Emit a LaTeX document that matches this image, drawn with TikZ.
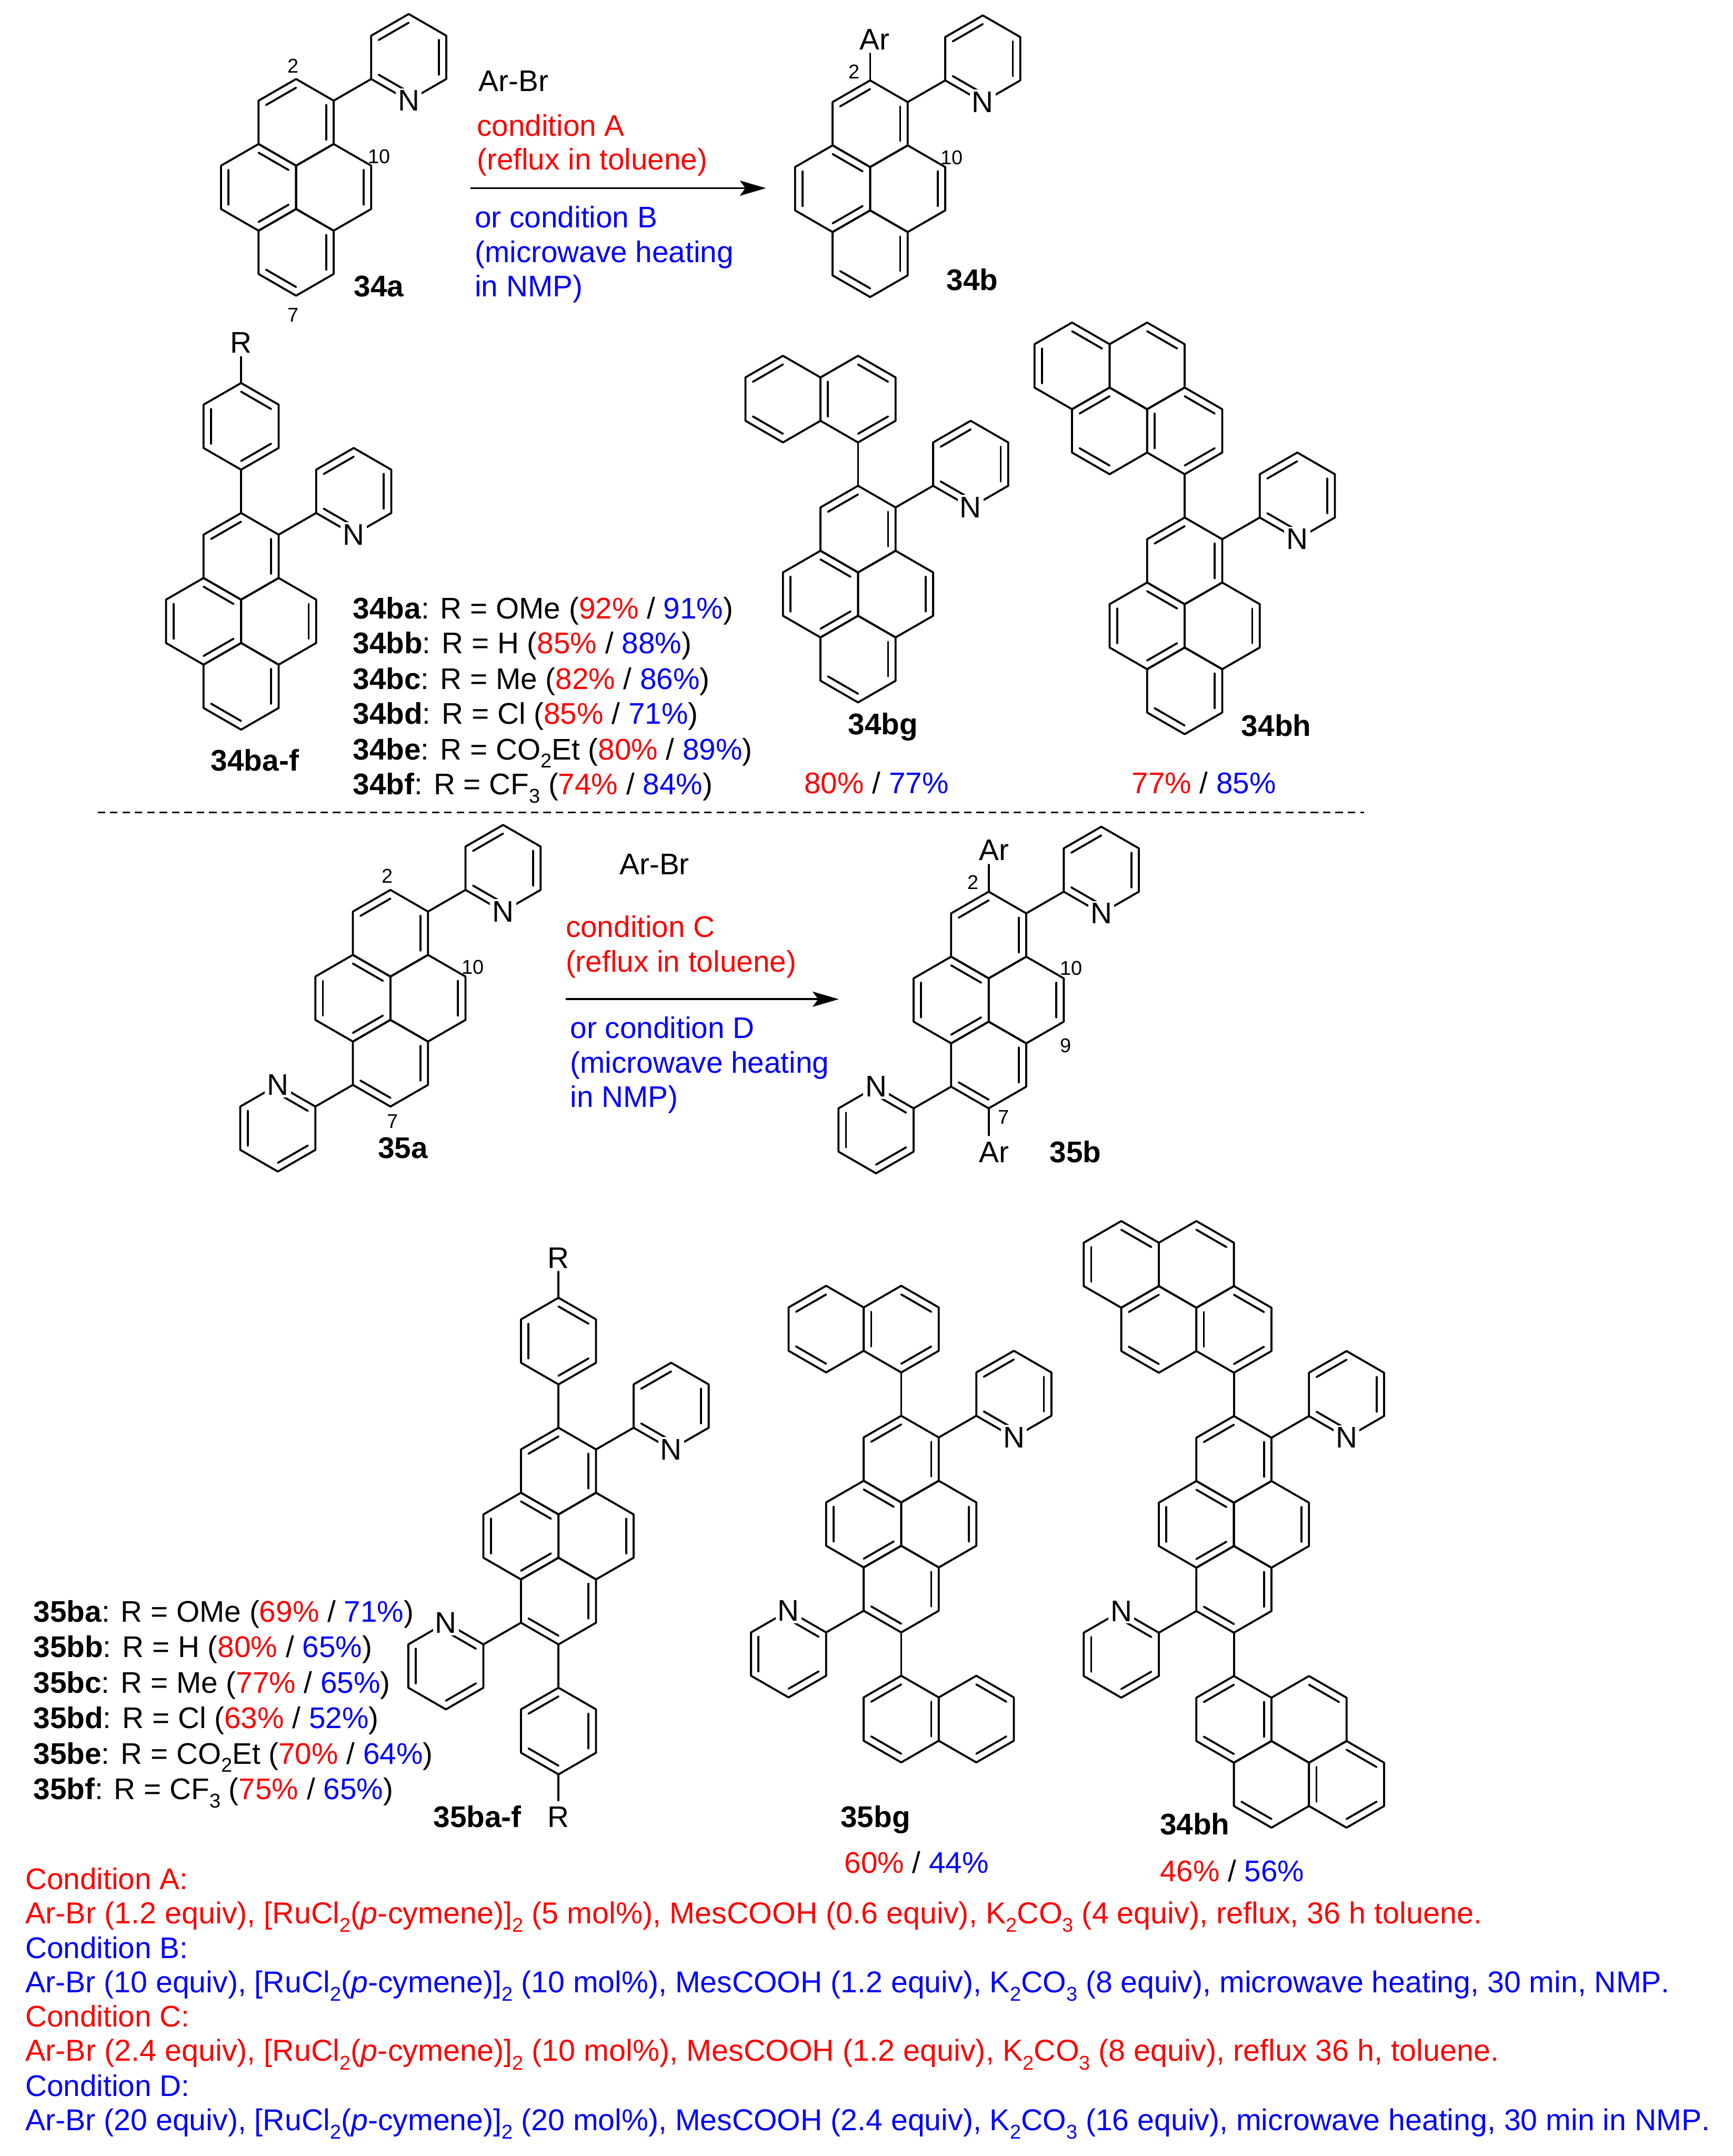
\documentclass[tikz,border=0pt]{standalone}
\usepackage{fontspec}
\setmainfont[Kerning=Off]{Liberation Sans}
\usetikzlibrary{arrows.meta}
\definecolor{cr}{RGB}{255,0,0}
\definecolor{cb}{RGB}{0,0,255}
\newcommand\cred[1]{\textcolor{cr}{#1}}
\newcommand\cblu[1]{\textcolor{cb}{#1}}
\newcommand\Sb[1]{\raisebox{-0.28em}{\fontsize{14.5}{15}\selectfont #1}}
\newcommand\fsA{\fontsize{22}{25}\selectfont}
\newcommand\fsB{\fontsize{21.9}{25}\selectfont}
\newcount\nodeidx
\newcommand\nid{\global\advance\nodeidx by 1 }
\tikzset{
  bond/.style={line width=1.45pt,line cap=round,line join=round,black},
  lbl/.style={inner sep=0pt,outer sep=0pt,font=\fontsize{21.7}{25}\selectfont},
  numlbl/.style={inner sep=0pt,outer sep=0pt,font=\fontsize{14.5}{16}\selectfont},
  nitro/.style={fill=white,inner sep=1.6pt,font=\fontsize{21.7}{25}\selectfont},
  rxn/.style={line width=1.5pt,-{Stealth[length=19pt,width=11pt,inset=4pt]}},
  divider/.style={line width=1.2pt,dash pattern=on 5.5pt off 3.5pt}
}
\newcommand\Tw[3]{\nid\node[lbl,anchor=base west] (t\the\nodeidx) at (#1,#2) {#3};}
\newcommand\Tc[3]{\nid\node[lbl,anchor=base] (t\the\nodeidx) at (#1,#2) {#3};}
\newcommand\Tn[3]{\nid\node[numlbl] (t\the\nodeidx) at (#1,#2) {#3};}
\newcommand\Hex[3]{\begin{scope}[shift={(#1,#2)}]
  \draw[bond] (0,-1)--(1,-.5)--(1,.5)--(0,1)--(-1,.5)--(-1,-.5)--cycle;
  \begin{scope}[scale=.8]\foreach \e in {#3}{\ifcase\e\or
    \draw[bond] (0,-1)--(1,-.5);\or
    \draw[bond] (1,-.5)--(1,.5);\or
    \draw[bond] (1,.5)--(0,1);\or
    \draw[bond] (0,1)--(-1,.5);\or
    \draw[bond] (-1,.5)--(-1,-.5);\or
    \draw[bond] (-1,-.5)--(0,-1);\fi}\end{scope}
\end{scope}}
\newcommand\Pyrene{\Hex{0}{-1.5}{2,6}\Hex{-1}{0}{1,3,5}\Hex{1}{0}{2}\Hex{0}{1.5}{2,4}}
\newcommand\PyU{\draw[bond] (1,-2)--(2,-2.5);\Hex{3}{-3}{2,4,6}\nid\node[nitro] (n\the\nodeidx) at (3,-2) {N};}
\newcommand\PyD{\draw[bond] (-1,2)--(-2,2.5);\Hex{-3}{3}{1,3,5}\nid\node[nitro] (n\the\nodeidx) at (-3,2) {N};}
\newcommand\NaphU{\draw[bond] (0,-2.5)--(0,-3.5);\Hex{0}{-4.5}{1,3,5}\Hex{-2}{-4.5}{4,6}}
\newcommand\NaphD{\draw[bond] (0,2.5)--(0,3.5);\Hex{0}{4.5}{2,4,6}\Hex{2}{4.5}{1,3}}
\newcommand\PyrU{\draw[bond] (0,-2.5)--(0,-3.5);\Hex{0}{-4.5}{1,3,5}\Hex{-2}{-4.5}{4,6}\Hex{-1}{-6}{1}\Hex{-3}{-6}{1,5}}
\newcommand\PyrD{\draw[bond] (0,2.5)--(0,3.5);\Hex{0}{4.5}{2,4,6}\Hex{2}{4.5}{1}\Hex{1}{6}{4}\Hex{3}{6}{1,3,5}}
\newcommand\ArU{\draw[bond] (0,-2.5)--(0,-3.5);\Hex{0}{-4.5}{1,3,5}\draw[bond] (0,-5.5)--(0,-6.1);}
\newcommand\ArD{\draw[bond] (0,2.5)--(0,3.5);\Hex{0}{4.5}{2,4,6}\draw[bond] (0,5.5)--(0,6.1);}
\newenvironment{mol}[2]{\begin{scope}[shift={(#1,#2)},x=27.3pt,y=-31.5pt]}{\end{scope}}
\begin{document}
\begin{tikzpicture}[x=1pt,y=-1pt]
\path[use as bounding box,fill=white] (0,0) rectangle (1260,1567.4);
% --- 34a -> 34b
\begin{mol}{215.3}{136.2}\Pyrene\PyU\end{mol}
\begin{mol}{632.7}{137.2}\Pyrene\PyU\draw[bond] (0,-2.5)--(0,-3.12);\end{mol}
\Tn{213}{48}{2}\Tn{275.6}{113.7}{10}\Tn{213}{229}{7}
\Tc{275.6}{215.5}{\textbf{34a}}
\Tc{636}{36}{Ar}\Tn{621}{52}{2}\Tn{692}{114.5}{10}
\Tc{707}{211}{\textbf{34b}}
\Tw{348.2}{66.3}{Ar-Br}
\Tw{346.8}{98.8}{\cred{condition A}}
\Tw{346.8}{123.5}{\cred{(reflux in toluene)}}
\Tw{345.3}{165.4}{\cblu{or condition B}}
\Tw{345.3}{190.8}{\cblu{(microwave heating}}
\Tw{345.3}{215.5}{\cblu{in NMP)}}
\coordinate (a1) at (342,136.8);\coordinate (a2) at (557,136.8);
\draw[rxn] (a1)--(a2);
% --- 34ba-f
\begin{mol}{175.3}{451.7}\Pyrene\PyU\ArU\end{mol}
\Tc{175.3}{256.5}{R}
\Tc{185.4}{560.3}{\textbf{34ba-f}}
\Tw{256.6}{449.8}{\textbf{34ba}: R = OMe (\cred{92\%} / \cblu{91\%})}
\Tw{256.6}{475.2}{\textbf{34bb}: R = H (\cred{85\%} / \cblu{88\%})}
\Tw{256.6}{501.1}{\textbf{34bc}: R = Me (\cred{82\%} / \cblu{86\%})}
\Tw{256.6}{526.5}{\textbf{34bd}: R = Cl (\cred{85\%} / \cblu{71\%})}
\Tw{256.6}{552.2}{\textbf{34be}: R = CO\Sb{2}Et (\cred{80\%} / \cblu{89\%})}
\Tw{256.6}{577.6}{\textbf{34bf}: R = CF\Sb{3} (\cred{74\%} / \cblu{84\%})}
% --- 34bg, 34bh
\begin{mol}{623.9}{431.9}\Pyrene\PyU\NaphU\end{mol}
\Tc{642}{533.9}{\textbf{34bg}}
\Tw{584.8}{577}{\cred{80\%} / \cblu{77\%}}
\begin{mol}{861.4}{455}\Pyrene\PyU\PyrU\end{mol}
\Tc{928}{535}{\textbf{34bh}}
\Tw{822.9}{577}{\cred{77\%} / \cblu{85\%}}
% --- divider
\coordinate (d1) at (71,590.7);\coordinate (d2) at (992,590.7);
\draw[divider] (d1)--(d2);
% --- 35a -> 35b
\begin{mol}{283.9}{725.7}\Pyrene\PyU\PyD\end{mol}
\Tn{281.5}{637}{2}\Tn{343.8}{703}{10}\Tn{285.3}{815.3}{7}
\Tc{293}{842}{\textbf{35a}}
\begin{mol}{718.9}{727}\Pyrene\PyU\PyD\draw[bond] (0,-2.5)--(0,-3.12);\draw[bond] (0,2.5)--(0,3.12);\end{mol}
\Tc{722.7}{625.3}{Ar}\Tn{707.5}{641.4}{2}\Tn{778.9}{704}{10}\Tn{775}{760}{9}\Tn{729.6}{812}{7}
\Tc{722.7}{845}{Ar}\Tc{782}{845}{\textbf{35b}}
\Tw{450.6}{635.7}{Ar-Br}
\Tw{411.4}{681.5}{\cred{condition C}}
\Tw{411.4}{706.6}{\cred{(reflux in toluene)}}
\Tw{414.7}{754.9}{\cblu{or condition D}}
\Tw{414.7}{780}{\cblu{(microwave heating}}
\Tw{414.7}{805}{\cblu{in NMP)}}
\coordinate (a3) at (411.4,726.4);\coordinate (a4) at (609.9,726.4);
\draw[rxn] (a3)--(a4);
% --- 35ba-f
\begin{mol}{406.1}{1116.7}\Pyrene\PyU\PyD\ArU\ArD\end{mol}
\Tc{406.1}{922}{R}\Tc{406.1}{1328.4}{R}
\Tw{315.2}{1328.4}{\textbf{35ba-f}}
\Tw{24.3}{1179.2}{\textbf{35ba}: R = OMe (\cred{69\%} / \cblu{71\%})}
\Tw{24.3}{1205}{\textbf{35bb}: R = H (\cred{80\%} / \cblu{65\%})}
\Tw{24.3}{1231}{\textbf{35bc}: R = Me (\cred{77\%} / \cblu{65\%})}
\Tw{24.3}{1256.5}{\textbf{35bd}: R = Cl (\cred{63\%} / \cblu{52\%})}
\Tw{24.3}{1282.3}{\textbf{35be}: R = CO\Sb{2}Et (\cred{70\%} / \cblu{64\%})}
\Tw{24.3}{1308}{\textbf{35bf}: R = CF\Sb{3} (\cred{75\%} / \cblu{65\%})}
% --- 35bg, second 34bh
\begin{mol}{655.3}{1108}\Pyrene\PyU\PyD\NaphU\NaphD\end{mol}
\Tc{636.6}{1328.4}{\textbf{35bg}}
\Tw{614}{1361.6}{\cred{60\%} / \cblu{44\%}}
\begin{mol}{897.2}{1108.2}\Pyrene\PyU\PyD\PyrU\PyrD\end{mol}
\Tw{843.4}{1333.6}{\textbf{34bh}}
\Tw{843.4}{1367.8}{\cred{46\%} / \cblu{56\%}}
% --- conditions
\Tw{18.5}{1373.6}{\cred{Condition A:}}
\Tw{18.5}{1398.5}{\fsA\cred{Ar-Br (1.2 equiv), [RuCl\Sb{2}(\textit{p}-cymene)]\Sb{2} (5 mol\%), MesCOOH (0.6 equiv), K\Sb{2}CO\Sb{3} (4 equiv), reflux, 36 h toluene.}}
\Tw{18.5}{1423.8}{\cblu{Condition B:}}
\Tw{18.5}{1448.7}{\fsB\cblu{Ar-Br (10 equiv), [RuCl\Sb{2}(\textit{p}-cymene)]\Sb{2} (10 mol\%), MesCOOH (1.2 equiv), K\Sb{2}CO\Sb{3} (8 equiv), microwave heating, 30 min, NMP.}}
\Tw{18.5}{1473.6}{\cred{Condition C:}}
\Tw{18.5}{1498.5}{\fsA\cred{Ar-Br (2.4 equiv), [RuCl\Sb{2}(\textit{p}-cymene)]\Sb{2} (10 mol\%), MesCOOH (1.2 equiv), K\Sb{2}CO\Sb{3} (8 equiv), reflux 36 h, toluene.}}
\Tw{18.5}{1523.8}{\cblu{Condition D:}}
\Tw{18.5}{1549}{\fsB\cblu{Ar-Br (20 equiv), [RuCl\Sb{2}(\textit{p}-cymene)]\Sb{2} (20 mol\%), MesCOOH (2.4 equiv), K\Sb{2}CO\Sb{3} (16 equiv), microwave heating, 30 min in NMP.}}
\end{tikzpicture}
\end{document}
